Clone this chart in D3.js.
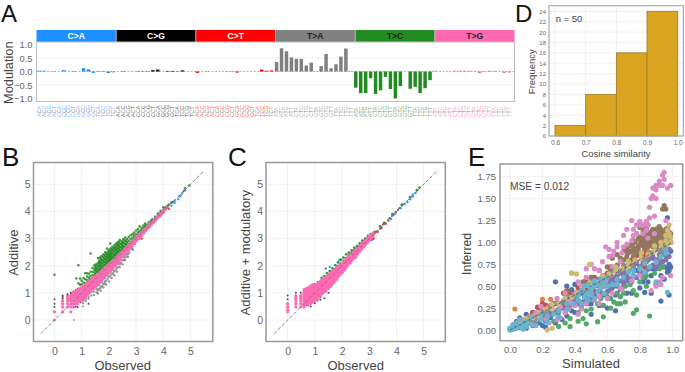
<!DOCTYPE html>
<html><head><meta charset="utf-8">
<script src="https://cdn.jsdelivr.net/npm/d3@7/dist/d3.min.js"></script>
<style>html,body{margin:0;padding:0;background:#fff}svg{display:block;font-family:"Liberation Sans",Arial,sans-serif}</style>
</head><body><svg id="c" width="685" height="372"></svg>
<script>
// ---------- Panel A data ----------
const mutationTypes = ["C>A","C>G","C>T","T>A","T>C","T>G"];
const mutationColors = ["#1e90ff","#000000","#ff0000","#808080","#228b22","#ff69b4"];
const stripTextColors = ["#fff","#fff","#fff","#222","#222","#222"];
const refBases = ["C","C","C","T","T","T"];
const fiveBases = ["A","C","G","T"];
const threeBases = ["A","C","G","T"];
const modCA = [.03,.03,0,-.01,0,.05,0,.02,0,.12,.08,-.05,.02,.02,-.06,-.03];
const modCG = [0,-.01,0,0,.01,-.01,-.01,.05,.07,0,.02,.02,-.01,.04,0,0];
const modCT = [-.05,0,-.01,0,0,0,.01,-.01,-.04,0,0,0,0,.07,.03,.04];
const modTA = [.35,.86,.75,.52,.47,.47,.22,.33,.01,.2,.65,.12,.27,.55,.85,.01];
const modTC = [-.6,-.8,-.8,-.25,-.83,-.7,-.2,-.65,-1.0,-.54,0,-.64,-.57,-.8,-.62,-.32];
const modTG = [.03,0,0,.01,.03,.03,.03,.03,.01,-.06,.02,.03,.02,0,-.05,-.04];
const modTicks = [-1,-.5,0,.5,1];

// ---------- Panel D data ----------
const cosineBins = [[.6,.7],[.7,.8],[.8,.9],[.9,1.0]];
const cosineFreq = [2,8,16,24];
const freqTicks = [0,2,4,6,8,10,12,14,16,18,20,22,24];
const cosineTicks = [.6,.7,.8,.9,1.0];

// ---------- Panel B data (observed, [additive...]) ----------
const bBlue = [[1.85,[1.35]],[2.88,[2.6]],[4.3,[4.2]],[4.42,[4.32,4.4]],[4.55,[4.45]],[4.6,[4.55]],[4.65,[4.6]],[4.7,[4.68]],[4.8,[4.78]]];
const bBlack = [[0,[.48,.6,.76]],[.3,[.7,.78,.85,.9]],[.48,[.78,.9,.95]],[.6,[.85,.95,1]],[.7,[.48,.6,.95,1.05]],[.78,[.5,.6,1,1.1]],[.85,[.48,.6,1.15]],[.95,[.65,.75]],[1.25,[.6]],[4.3,[4.3]],[4.35,[4.36]],[4.1,[4.1]],[4.75,[4.75]]];
const bLowGrey = [[.72,[0]],[1.05,[.5]]];
const bRed = [[3.2,[3.0,3.1]],[3.5,[3.45]],[4.2,[4.1]],[3.9,[3.85]],[4,[3.95]]];
const bGrey = [[1.05,[.72,.62]],[1.15,[.78,.7]],[1.25,[.85,.78,.95]],[1.35,[.9,1.02]],[1.45,[.92,1.05,1.15]],[1.55,[1.02,1.15,1.25]],[1.6,[.98,1.1]],[1.65,[1.15,1.28,1.38]],[1.7,[1.08,1.2]],[1.75,[1.25,1.38,1.48]],[1.8,[1.2,1.32]],[1.85,[1.42,1.55]],[1.9,[1.3,1.45]],[1.95,[1.52,1.65]],[2,[1.42,1.58]],[2.05,[1.62,1.75]],[2.1,[1.55,1.68]],[2.15,[1.72,1.85]],[2.2,[1.65,1.8]],[2.25,[1.85,1.98]],[2.3,[1.78,1.92]],[2.35,[1.95,2.08]],[2.4,[1.95,2.05]],[2.45,[2.1,2.2]],[2.5,[2.05,2.2]],[2.55,[2.22,2.32]],[2.6,[2.2,2.3]],[2.65,[2.35,2.44]],[2.7,[2.32,2.42]],[2.75,[2.48,2.56]],[2.85,[2.62,2.7]],[2.95,[2.8,2.86]],[3.1,[2.98]],[3.3,[3.2]]];
const bGreen = [[0,[1.67]],[.8,[1.53]],[.88,[2.02,1.35]],[.94,[1.53,1.3]],[1,[1.2,1.32,1.45]],[1.07,[1.25,1.38,1.55]],[1.13,[1.72,1.35,1.5]],[1.2,[1.35,1.47,1.6,1.72]],[1.27,[1.45,1.56,1.7]],[1.33,[2.45,1.5,1.62,1.78]],[1.4,[1.55,1.66,1.78,1.92]],[1.47,[1.62,1.74,1.86,2.02]],[1.5,[1.7,1.83,1.95]],[1.53,[1.68,1.8,1.92,2.05]],[1.57,[1.78,1.9,2.02]],[1.6,[1.75,1.86,1.98,2.1,2.28]],[1.64,[1.84,1.97,2.08,2.18]],[1.67,[1.8,1.92,2.04,2.16,2.3]],[1.7,[1.9,2.02,2.14,2.26]],[1.73,[1.86,1.98,2.1,2.22,2.36]],[1.77,[1.96,2.08,2.2,2.33]],[1.8,[1.92,2.04,2.16,2.28,2.42]],[1.84,[2.02,2.14,2.26,2.38]],[1.87,[2,2.12,2.24,2.36,2.5]],[1.9,[2.09,2.21,2.33,2.46]],[1.93,[2.06,2.18,2.3,2.42,2.63]],[1.97,[2.15,2.27,2.39,2.52]],[2,[2.1,2.22,2.34,2.46,2.58]],[2.03,[2.17,2.29,2.41,2.53]],[2.05,[2.82,2.2,2.32,2.44]],[2.07,[2.16,2.28,2.4,2.52,2.64]],[2.1,[2.23,2.35,2.47,2.6]],[2.13,[2.22,2.34,2.46,2.58,2.7]],[2.17,[2.29,2.41,2.53,2.65]],[2.2,[2.28,2.4,2.52,2.64,2.76]],[2.24,[2.36,2.48,2.6,2.72]],[2.27,[2.34,2.46,2.58,2.7,2.82]],[2.3,[2.42,2.54,2.66,2.78]],[2.33,[2.4,2.52,2.64,2.76,2.86]],[2.37,[2.49,2.61,2.73,2.88]],[2.4,[2.46,2.58,2.7,2.82,2.95]],[2.44,[2.56,2.68,2.8]],[2.47,[2.54,2.66,2.78,2.9]],[2.5,[2.62,2.74,2.86]],[2.53,[2.6,2.72,2.84,2.98]],[2.57,[2.7,2.82,2.94]],[2.6,[2.68,2.8,2.92,3.04]],[2.64,[2.77,2.89]],[2.67,[2.74,2.86,2.98]],[2.73,[2.8,2.92,3.06]],[2.8,[2.86,2.98,3.12]],[2.87,[2.94,3.04,3.16]],[2.93,[3,3.1,3.22]],[3,[3.06,3.16,3.3]],[3.07,[3.12,3.22,3.35]],[3.13,[3.2,3.28,3.45]],[3.2,[3.25,3.33,3.4]],[3.27,[3.32,3.4,3.48]],[3.33,[3.38,3.46,3.55]],[3.4,[3.45,3.52]],[3.47,[3.52,3.6]],[3.55,[3.6,3.66]],[3.6,[3.64,3.72]],[3.7,[3.75,3.8]],[3.8,[3.85,3.92]],[3.9,[3.95,4.02]],[4,[4.05,4.15]],[4.05,[4.12]],[4.1,[4.16]],[4.15,[4.2]],[4.2,[4.25]],[4.3,[4.33]],[4.8,[4.85]],[4.95,[4.95]]];
const bPink = [[0,[0,.3]],[.3,[.3,.48,.6,.7]],[.48,[.48,.6,.7,.78,.85]],[.6,[.3,.48,.6,.7,.78,.85,.9]],[.7,[.48,.6,.7,.78,.85,.9,.95,1]],[.78,[.6,.7,.78,.85,.9,.95,1,1.04]],[.85,[.6,.7,.78,.85,.9,.95,1,1.06,1.1]],[.92,[.7,.78,.86,.94,1.02,1.1,1.16]],[1,[.72,.8,.88,.96,1.04,1.12,1.2]],[1.07,[.78,.86,.94,1.02,1.1,1.18,1.25]],[1.14,[.86,.94,1.02,1.1,1.18,1.26,1.32]],[1.21,[.94,1.02,1.1,1.18,1.26,1.34,1.4]],[1.28,[1.02,1.1,1.18,1.26,1.34,1.42]],[1.35,[1.08,1.16,1.24,1.32,1.4,1.48]],[1.42,[1.16,1.24,1.32,1.4,1.48,1.55]],[1.5,[1.22,1.3,1.38,1.46,1.54,1.6]],[1.57,[1.3,1.38,1.46,1.54,1.62,1.67]],[1.64,[1.38,1.46,1.54,1.62,1.7]],[1.71,[1.46,1.54,1.62,1.7,1.78]],[1.78,[1.52,1.6,1.68,1.76,1.84]],[1.85,[1.6,1.68,1.76,1.84,1.92]],[1.92,[1.66,1.74,1.82,1.9,1.98]],[2,[1.74,1.82,1.9,1.98,2.05]],[2.07,[1.82,1.9,1.98,2.06,2.12]],[2.14,[1.9,1.98,2.06,2.14,2.18]],[2.21,[1.98,2.06,2.14,2.22]],[2.28,[2.06,2.14,2.22,2.3]],[2.35,[2.14,2.22,2.3,2.38]],[2.42,[2.22,2.3,2.38,2.44]],[2.5,[2.33,2.4,2.46,2.52]],[2.57,[2.41,2.48,2.54,2.6]],[2.64,[2.5,2.56,2.62,2.67]],[2.71,[2.58,2.64,2.7,2.74]],[2.78,[2.66,2.72,2.78]],[2.85,[2.73,2.79,2.85,2.88]],[2.92,[2.82,2.88,2.94]],[3,[2.9,2.96,3.02,3.06]],[3.07,[2.98,3.04,3.1]],[3.14,[3.06,3.12,3.17]],[3.21,[3.14,3.2,3.24]],[3.28,[3.22,3.27,3.31]],[3.35,[3.29,3.34,3.38]],[3.42,[3.36,3.42,3.46]],[3.5,[3.44,3.5,3.54]],[3.57,[3.52,3.58]],[3.64,[3.6,3.65]],[3.71,[3.67,3.72]],[3.78,[3.75,3.79]],[3.85,[3.82,3.86]],[3.92,[3.89,3.93]],[4,[3.98,4.02]],[4.07,[4.07]],[4.15,[4.15]]];

// ---------- Panel C data (observed, [additive + modulatory...]) ----------
const cBlue = [[1.55,[1.4,1.95]],[1.7,[1.45]],[2.1,[1.85]],[2.5,[2.3]],[3.1,[2.95]],[3.4,[3.36]],[3.7,[3.66]],[3.8,[3.72]],[3.95,[3.92]],[4.15,[4.12]],[4.3,[4.27]],[4.4,[4.35]],[4.5,[4.45]],[4.6,[4.55,4.62]],[4.7,[4.68]],[1.9,[2.2]]];
const cBlack = [[0,[.5,.6,.76,.9]],[.3,[.78,.9,1]],[.48,[.7,.85,1,.6]],[.6,[.95,1.05,.6,.5]],[.7,[1,1.1,.55,.65]],[.85,[.6,.7,.5]],[1,[.7,.62,1.32]],[1.1,[.72,1.4]],[1.2,[.85,.75]],[1.4,[1.9]],[1.5,[1]],[1.35,[.8]],[3.5,[3.52]],[3.75,[3.76]],[3.98,[3.98]],[4.05,[4.05]],[4.1,[4.12]]];
const cRed = [[1.9,[1.7]],[2.9,[2.85]],[3.15,[3]],[3.3,[3.24]],[3.45,[3.4]],[3.6,[3.55]]];
const cGrey = [[1.2,[.85]],[1.4,[1.05]],[1.6,[1.25]],[1.8,[1.48]],[2,[1.72]],[2.3,[2.1]],[3.2,[3.2]],[3.3,[3.28]],[3.55,[3.54]],[3.7,[3.68]],[3.85,[3.84]],[3.9,[3.88]],[4.2,[4.22]]];
const cGreen = [[1.25,[1.42,1.55]],[1.35,[1.5,1.62]],[1.45,[1.58,1.72]],[1.55,[1.68,1.8]],[1.65,[1.78,1.9]],[1.75,[1.88,2.02]],[1.85,[1.98,2.12]],[1.95,[2.08,2.22]],[2.05,[2.18,2.3]],[2.15,[2.28,2.42]],[2.25,[2.38,2.48]],[2.35,[2.46,2.56]],[2.45,[2.56,2.66]],[2.55,[2.64,2.72]],[2.65,[2.74,2.82]],[2.75,[2.84,2.92]],[2.85,[2.92,3]],[2.95,[3.02,3.1]],[3.05,[3.1,3.16]],[3.2,[3.25]],[3.4,[3.45]],[3.55,[3.58]],[3.85,[3.9]],[4.2,[4.25]],[4.5,[4.52]],[4.75,[4.78]],[4.85,[4.88]]];
const cPink = [[0,[.3,.38,.48,.6]],[.3,[.48,.6,.7,.78,.85]],[.48,[.48,.6,.7,.78,.85,.9]],[.6,[.48,.55,.62,.7,.78,.85,.92,.98,1.05,1.12]],[.68,[.6,.68,.76,.84,.92,1,1.08,1.16]],[.76,[.55,.63,.71,.79,.87,.95,1.03,1.11,1.19]],[.84,[.62,.7,.78,.86,.94,1.02,1.1,1.18,1.26]],[.92,[.66,.74,.82,.9,.98,1.06,1.14,1.22,1.3]],[1,[.7,.78,.86,.94,1.02,1.1,1.18,1.26]],[1.07,[.76,.84,.92,1,1.08,1.16,1.24,1.32]],[1.14,[.84,.92,1,1.08,1.16,1.24,1.32,1.38]],[1.21,[.92,1,1.08,1.16,1.24,1.32,1.4,1.44]],[1.28,[.98,1.06,1.14,1.22,1.3,1.38,1.46,1.5]],[1.35,[1.05,1.13,1.21,1.29,1.37,1.45,1.53]],[1.42,[1.12,1.2,1.28,1.36,1.44,1.52,1.6]],[1.5,[1.16,1.24,1.32,1.4,1.48,1.56,1.66]],[1.57,[1.24,1.32,1.4,1.48,1.56,1.64,1.72]],[1.64,[1.32,1.4,1.48,1.56,1.64,1.72,1.78]],[1.71,[1.4,1.48,1.56,1.64,1.72,1.8,1.85]],[1.78,[1.5,1.58,1.66,1.74,1.82,1.9]],[1.85,[1.58,1.66,1.74,1.82,1.9,1.96]],[1.92,[1.66,1.74,1.82,1.9,1.98,2.03]],[2,[1.76,1.84,1.92,2,2.08]],[2.07,[1.84,1.92,2,2.08,2.16]],[2.14,[1.94,2.02,2.1,2.18,2.23]],[2.21,[2.02,2.1,2.18,2.26,2.3]],[2.28,[2.1,2.18,2.26,2.34,2.38]],[2.35,[2.18,2.26,2.34,2.42]],[2.42,[2.26,2.34,2.42,2.5]],[2.5,[2.35,2.42,2.5,2.57]],[2.57,[2.44,2.51,2.58,2.64]],[2.64,[2.52,2.59,2.66,2.71]],[2.71,[2.6,2.67,2.74,2.78]],[2.78,[2.68,2.74,2.8,2.85]],[2.85,[2.76,2.82,2.88,2.92]],[2.92,[2.84,2.9,2.96,3]],[3,[2.92,2.98,3.04,3.1]],[3.07,[3.02,3.08,3.14]],[3.14,[3.1,3.16,3.2]]];

// ---------- Panel E data (simulated, [inferred...]) ----------
const eBlue = [[.02,[.02,.06]],[.04,[.1]],[.06,[.03,.14]],[.1,[.02,.18]],[.12,[.12]],[.14,[.05,.2]],[.16,[.14]],[.18,[.08,.25]],[.2,[.18,.05]],[.22,[.1,.28,.03]],[.25,[.22,.14]],[.28,[.55,.2,.08]],[.3,[.22]],[.32,[.3,.12]],[.34,[.26,.42]],[.35,[.5,.35,.16]],[.38,[.46,.22]],[.4,[.52,.2]],[.42,[.34,.3]],[.44,[.42,.25]],[.46,[.38,.55]],[.48,[.3,.46]],[.5,[.3,.18]],[.52,[.38,.52]],[.55,[.58,.28]],[.58,[.4,.5]],[.6,[.25,.62]],[.63,[.48,.58]],[.65,[.22,.4]],[.68,[.46,.65]],[.7,[.5,.72]],[.72,[.42,.6]],[.75,[.55,.42]],[.78,[.6,.68]],[.8,[.72,.48]],[.82,[.55,.8]],[.83,[.43,.6]],[.85,[.55,.8]],[.87,[.42,.62]],[.88,[.7,.82]],[.9,[.7,.52]],[.92,[.78,.95]],[.93,[.33,.88,.62]],[.95,[.58,.72,.95]],[.96,[.85,1.0]],[.97,[.7,1.28,.66]],[.98,[.4,.75,1.05,.68]],[.99,[1.0,.72,.9]]];
const eOrange = [[.03,[.24]],[.05,[.03,.1]],[.12,[.16]],[.2,[.35,.22]],[.25,[.35,.28]],[.3,[.24]],[.38,[.36]],[.45,[.47]],[.5,[.35]],[.58,[.62]],[.62,[.46]],[.7,[.7]],[.76,[.62]],[.85,[.9]],[.92,[.82]],[.96,[1.1]]];
const eGreen = [[.05,[.05]],[.1,[.12]],[.12,[.08]],[.16,[.1]],[.2,[.13]],[.24,[.16]],[.27,[.1]],[.3,[.04]],[.34,[.08,.2]],[.37,[.13,.04]],[.4,[.3]],[.42,[.2,.1]],[.45,[.13,.3]],[.47,[.07,.22]],[.5,[.24,.36]],[.54,[.095,.3]],[.56,[.36]],[.575,[.15,.28]],[.6,[.38]],[.62,[.25,.36]],[.64,[.32]],[.66,[.42,.3]],[.68,[.3,.38]],[.7,[.42]],[.71,[.32,.5]],[.74,[.52]],[.76,[.19,.45]],[.78,[.23,.4]],[.8,[.55]],[.82,[.6]],[.84,[.5,.62]],[.86,[.16]],[.89,[.65]],[.92,[.7]],[.94,[.72]],[.96,[.85]],[.98,[.92,1.1]]];
const eRed = [[.04,[.06]],[.09,[.12]],[.14,[.2]],[.17,[.14,.26]],[.2,[.3]],[.22,[.28]],[.24,[.24]],[.27,[.3]],[.29,[.31]],[.33,[.42,.26]],[.36,[.44]],[.38,[.4]],[.4,[.36]],[.42,[.33,.48]],[.44,[.5]],[.47,[.56]],[.5,[.55]],[.52,[.44,.6]],[.55,[.5]],[.57,[.62]],[.6,[.65,.52]],[.62,[.72,.58]],[.65,[.72]],[.68,[.78]],[.7,[.72,.62]],[.72,[.9]],[.74,[.9]],[.75,[.8,.7]],[.78,[.85]],[.79,[.95]],[.81,[1.0]],[.83,[.86,.72]],[.84,[.95,1.05]],[.86,[.98,1.03]],[.88,[1.1]],[.9,[1.15,1.06]],[.92,[1.08]],[.93,[1.13,1.02]],[.95,[1.07]],[.96,[1.05,1.15]],[.97,[1.0,1.12]]];
const ePurple = [[.02,[.01,.04]],[.05,[.03]],[.07,[.05]],[.1,[.07]],[.12,[.08]],[.15,[.1,.16]],[.17,[.13,.18]],[.2,[.14,.2]],[.22,[.16]],[.25,[.18,.24]],[.27,[.22]],[.3,[.24,.2]],[.32,[.25,.3]],[.35,[.3,.24]],[.37,[.28,.36]],[.4,[.34,.42]],[.42,[.3,.4]],[.45,[.32,.44]],[.47,[.36,.46]],[.5,[.38,.48]],[.52,[.4,.5]],[.55,[.44,.54]],[.57,[.42,.52]],[.6,[.44,.6]],[.62,[.46,.56]],[.65,[.54,.6]],[.66,[.5,.62]],[.68,[.56,.68]],[.7,[.54,.66]],[.72,[.56,.62]],[.74,[.58,.7]],[.76,[.62,.72]],[.78,[.6,.76]],[.8,[.64,.72]],[.82,[.66,.76]],[.84,[.68,.78]],[.86,[.7,.82]],[.88,[.74,.84]],[.9,[.72,.8]],[.92,[.76,.86]],[.94,[.78,.88]],[.96,[.8,.9]],[.98,[.84,.92]]];
const eBrown = [[.35,[.45]],[.45,[.55]],[.5,[.6]],[.55,[.68]],[.6,[.72]],[.62,[.68]],[.63,[.82]],[.66,[.74,.86]],[.68,[.82]],[.7,[.8,.9]],[.72,[.84,.92]],[.73,[.78,.88,.96]],[.75,[.9,.98]],[.76,[.84,.94,1.02]],[.77,[.88,1.0]],[.78,[.9,1.1]],[.79,[.92,1.04]],[.8,[.88,.98,1.06,1.17]],[.82,[.96,1.04,1.12]],[.83,[.92,1,1.08,1.15]],[.84,[.98,1.06,1.16]],[.85,[.95,1.03,1.1,1.2]],[.87,[1,1.06,1.12]],[.88,[.95,1.02,1.08,1.15]],[.89,[1.04,1.1]],[.9,[1,1.07,1.14]],[.91,[1.02,1.1,1.16]],[.92,[.98,1.05,1.1,1.18]],[.93,[1,1.08,1.15]],[.94,[1.02,1.12,1.38]],[.95,[1.0,1.42,1.06]],[.96,[1.38,1.1]],[.97,[1.06,1.16]],[.98,[1.04,1.12]],[.99,[1.0,1.1]]];
const ePink = [[.03,[.04]],[.05,[.07]],[.08,[.02,.12]],[.1,[.1]],[.14,[.06,.16]],[.16,[.12,.2]],[.19,[.14,.27]],[.22,[.12,.2]],[.24,[.08,.26]],[.26,[.24]],[.29,[.12,.36]],[.31,[.14,.26]],[.34,[.2,.42]],[.36,[.24,.34]],[.38,[.65,.3]],[.4,[.28,.4]],[.42,[.18,.55]],[.44,[.24,.5]],[.47,[.7,.6,.3]],[.5,[.75,.42]],[.52,[.34,.7]],[.55,[.38,.68,.3]],[.57,[.5,.78]],[.59,[.95,.56]],[.6,[.36]],[.61,[.92,.84]],[.63,[.85,.72,.42]],[.64,[.9]],[.66,[1.0,.95]],[.68,[.48,.78]],[.69,[.88,.46]],[.7,[.95,1.08]],[.72,[1.15,.98]],[.75,[1.25,1.02,.56]],[.76,[1.15,1.08]],[.78,[1.1,1.2]],[.8,[1.2,1.24,.62]],[.82,[1.2,1.1]],[.84,[1.14,1.24]],[.85,[1.2,1.05]],[.86,[1.4,1.28]],[.87,[1.5,.45]],[.88,[1.53,1.62]],[.89,[1.3,1.1]],[.9,[1.65,1.5,.5,1.6]],[.92,[1.7,1.65,.55]],[.93,[.52]],[.94,[1.65,1.77,.6]],[.95,[1.8,1.72]],[.96,[1.25]],[.97,[1.62]],[.99,[1.65,.62]]];
const eGrey = [[.03,[.02]],[.08,[.07]],[.12,[.13]],[.15,[.12]],[.19,[.17]],[.22,[.2]],[.25,[.26]],[.28,[.3]],[.33,[.33]],[.36,[.38]],[.39,[.38]],[.41,[.43]],[.44,[.45]],[.47,[.5]],[.5,[.48,.55]],[.53,[.56]],[.56,[.55]],[.59,[.6]],[.62,[.62]],[.64,[.68]],[.67,[.66]],[.7,[.74]],[.72,[.72]],[.75,[.74]],[.78,[.78]],[.81,[.82]],[.84,[.8]],[.87,[.88]],[.9,[.92]],[.93,[.9]],[.96,[.95]]];
const eKhaki = [[0,[0,.02]],[.03,[.03,.06]],[.06,[.05,.08]],[.1,[.08,.13]],[.14,[.14]],[.18,[.16,.2]],[.22,[.24]],[.23,[0]],[.26,[.24,.29,.02]],[.3,[.3]],[.34,[.36]],[.38,[.37,.65]],[.41,[.64,.43]],[.45,[.47]],[.49,[.5,.54,.75]],[.53,[.55]],[.57,[.56,.62]],[.61,[.64]],[.65,[.67,.72]],[.69,[.7]],[.73,[.72,.78]],[.77,[.8]],[.81,[.82,.88]],[.85,[.86]],[.89,[.9,.96]],[.93,[.95,1.0]],[.96,[1.02,1.08]],[.97,[.98,1.14]],[.98,[1.1,1.2]],[.99,[1.0,1.06]]];
const eCyan = [[0,[0,.02]],[.02,[.01,.05]],[.04,[.02,.08]],[.06,[.04,.12]],[.08,[.01,.06]],[.1,[.04,.1]],[.13,[.07,.15]],[.16,[.05]],[.19,[.12,.18]],[.23,[.09,.16]],[.27,[.18]],[.3,[.15,.22]],[.35,[.24,.3]],[.39,[.3]],[.42,[.34,.4]],[.44,[.3,.45]],[.46,[.38,.5]],[.48,[.34,.42,.52]],[.5,[.4,.46]],[.52,[.36,.5,.56]],[.54,[.44,.52]],[.56,[.48,.58]],[.58,[.42,.54]],[.6,[.5,.6]],[.63,[.52]],[.66,[.58,.52]],[.7,[.6]],[.73,[.66]],[.76,[.62,.68]],[.8,[.7]],[.83,[.66,.76]],[.86,[.72]],[.9,[.78,.55]],[.93,[.84]],[.96,[.88,.92]],[.97,[.43]]];
const xyTicks = [0,1,2,3,4,5];
const simTicks = [0,.2,.4,.6,.8,1.0];
const infTicks = [0,.25,.5,.75,1,1.25,1.5,1.75];
const pointColors = {blue:"#1e90ff",black:"#222222",red:"#ff0000",grey:"#808080",green:"#228b22",pink:"#ff69b4"};
const deepPalette = ["#4C72B0","#DD8452","#55A868","#C44E52","#8172B3","#937860","#DA8BC3","#8C8C8C","#CCB974","#64B5CD"];

// ---------- drawing ----------
const svg = d3.select("#c");
const GRID="#f1f1f1", TICK="#666666", LAB="#444444";
const flat = rows => rows.flatMap(([x,ys]) => ys.map(y => [x,y]));
function label(x,y,t,size,rot,anchor,col,weight){
  svg.append("text").attr("transform",`translate(${x},${y})`+(rot?` rotate(${rot})`:""))
    .attr("text-anchor",anchor||"middle").attr("font-size",size).attr("fill",col||LAB).attr("font-weight",weight||"normal").text(t);
}
function styleAxis(g,size){
  g.select(".domain").remove();
  g.selectAll("line").remove();
  g.selectAll("text").attr("fill",TICK).attr("font-size",size).attr("font-family",'"Liberation Sans",Arial,sans-serif');
}
function frame(l,t,r,b,w,col){
  svg.append("rect").attr("x",l).attr("y",t).attr("width",r-l).attr("height",b-t)
    .attr("fill","none").attr("stroke",col||"#999").attr("stroke-width",w||1.5);
}
function grid(x,y,xt,yt,l,t,r,b){
  const g=svg.append("g").attr("stroke",GRID).attr("stroke-width",1);
  if(xt) g.selectAll(".vg").data(xt).join("line").attr("x1",d=>x(d)).attr("x2",d=>x(d)).attr("y1",t).attr("y2",b);
  if(yt) g.selectAll(".hg").data(yt).join("line").attr("y1",d=>y(d)).attr("y2",d=>y(d)).attr("x1",l).attr("x2",r);
}

// Panel letters
[["A",1,22,24],["B",2,166,26],["C",228,166,26],["D",515,22,24],["E",468,166,26]].forEach(d=>label(d[1],d[2],d[0],d[3],null,"start","#111"));

// Panel A
(function(){
  const L=36.5,R=514.5,T=42,B=101.5;
  const mods=[modCA,modCG,modCT,modTA,modTC,modTG];
  const values=mods.flat();
  const strip=d3.scaleLinear().domain([0,6]).range([L,R]);
  const x=d3.scaleBand().domain(d3.range(values.length)).range([36.5,511.7]).paddingInner(.3).paddingOuter(.15);
  const y=d3.scaleLinear().domain([-1,1]).range([98.5,44.5]);
  grid(null,y,null,[-.5,.5],L,T,R,B);
  svg.append("g").selectAll("rect").data(mutationTypes).join("rect")
    .attr("x",(d,i)=>strip(i)).attr("y",30).attr("width",(d,i)=>strip(i+1)-strip(i)).attr("height",12)
    .attr("fill",(d,i)=>mutationColors[i]);
  svg.append("g").selectAll("line").data(d3.range(1,6)).join("line")
    .attr("x1",d=>strip(d)).attr("x2",d=>strip(d)).attr("y1",30).attr("y2",42).attr("stroke","#ccc").attr("stroke-width",.8);
  mutationTypes.forEach((m,i)=>label((strip(i)+strip(i+1))/2,39,m,8.6,null,"middle",stripTextColors[i],"bold"));
  frame(L,T,R,B,1,"#bdbdbd");
  svg.append("line").attr("x1",L).attr("x2",R).attr("y1",y(0)).attr("y2",y(0)).attr("stroke","#999").attr("stroke-width",.7).attr("stroke-dasharray","2 1.5");
  svg.append("g").selectAll("rect").data(values).join("rect")
    .attr("x",(d,i)=>x(i)).attr("width",x.bandwidth())
    .attr("y",d=>y(Math.max(0,d))).attr("height",d=>Math.abs(y(d)-y(0)))
    .attr("fill",(d,i)=>mutationColors[Math.floor(i/16)]);
  const ax=svg.append("g").attr("transform",`translate(${L},0)`).call(d3.axisLeft(y).tickValues(modTicks).tickFormat(d3.format(".1f")).tickSize(0).tickPadding(4));
  styleAxis(ax,9.4);
  label(13,72.7,"Modulation",12.8,-90);
  const ctx=d3.cross(fiveBases,threeBases);
  values.forEach((v,i)=>{
    const g=Math.floor(i/16),c=ctx[i%16];
    const t=svg.append("text").attr("transform",`translate(${x(i)+x.bandwidth()/2+1.8},117) rotate(-90)`).attr("font-size",5.4);
    t.append("tspan").attr("fill",mutationColors[g]).attr("fill-opacity",.7).text(c[0]);
    t.append("tspan").attr("fill","#888").text(refBases[g]);
    t.append("tspan").attr("fill",mutationColors[g]).attr("fill-opacity",.7).text(c[1]);
  });
})();

// Panel D
(function(){
  const L=549,R=683.3,T=5.7,B=136;
  const x=d3.scaleLinear().domain([.6,1]).range([555,677.7]);
  const y=d3.scaleLinear().domain([0,24]).range([136,11.3]);
  grid(x,y,cosineTicks,freqTicks,L,T,R,B);
  svg.append("g").selectAll("rect").data(cosineFreq).join("rect")
    .attr("x",(d,i)=>x(cosineBins[i][0])).attr("width",(d,i)=>x(cosineBins[i][1])-x(cosineBins[i][0]))
    .attr("y",d=>y(d)).attr("height",d=>y(0)-y(d))
    .attr("fill","#daa520").attr("stroke","#9c7a22").attr("stroke-width",.8);
  frame(L,T,R,B,1.2,"#aaa");
  styleAxis(svg.append("g").attr("transform",`translate(${L},0)`).call(d3.axisLeft(y).tickValues(freqTicks).tickSize(0).tickPadding(3)),6);
  styleAxis(svg.append("g").attr("transform",`translate(0,${B})`).call(d3.axisBottom(x).tickValues(cosineTicks).tickFormat(d3.format(".1f")).tickSize(0).tickPadding(4)),6.5);
  label(616,157,"Cosine similarity",9.5);
  label(535,71.7,"Frequency",9.5,-90);
  label(555.7,22.3,"n = 50",9.5,null,"start");
})();

// Panels B & C
function scatter(L,x0,yTitle,titleX,obsX,series){
  const R=L+179.3,T=162.5,B=341.5;
  const x=d3.scaleLinear().domain([0,5]).range([x0,x0+136]);
  const y=d3.scaleLinear().domain([0,5]).range([320,184.3]);
  grid(x,y,xyTicks,xyTicks,L,T,R,B);
  series.forEach(s=>{
    svg.append("g").selectAll("circle").data(flat(s.rows)).join("circle")
      .attr("cx",d=>x(d[0])).attr("cy",d=>y(d[1])).attr("r",s.r).attr("fill",s.color).attr("fill-opacity",s.op);
  });
  svg.append("line").attr("x1",x(-.5)).attr("y1",y(-.5)).attr("x2",x(5.5)).attr("y2",y(5.5))
    .attr("stroke","#777").attr("stroke-width",.9).attr("stroke-dasharray","3.5 2");
  frame(L,T,R,B,1.5,"#999");
  styleAxis(svg.append("g").attr("transform",`translate(${L},0)`).call(d3.axisLeft(y).tickValues(xyTicks).tickFormat(d3.format("d")).tickSize(0).tickPadding(3)),10.5);
  styleAxis(svg.append("g").attr("transform",`translate(0,${B})`).call(d3.axisBottom(x).tickValues(xyTicks).tickFormat(d3.format("d")).tickSize(0).tickPadding(6)),10.5);
  label(obsX,370,"Observed",13);
  label(titleX,252.7,yTitle,13,-90);
}
scatter(33.5,54.5,"Additive",17.5,122.7,[
  {rows:bBlue,color:pointColors.blue,r:1.2,op:.85},{rows:bBlack,color:pointColors.black,r:1,op:.8},{rows:bLowGrey,color:pointColors.grey,r:1,op:.8},
  {rows:bRed,color:pointColors.red,r:1.2,op:.85},{rows:bGrey,color:pointColors.grey,r:1.2,op:.8},
  {rows:bGreen,color:pointColors.green,r:1.3,op:.85},{rows:bPink,color:pointColors.pink,r:1.6,op:1}]);
scatter(266,287.7,"Additive + modulatory",250,355.7,[
  {rows:cBlue,color:pointColors.blue,r:1.3,op:.85},{rows:cBlack,color:pointColors.black,r:1,op:.8},
  {rows:cRed,color:pointColors.red,r:1.3,op:.85},{rows:cGrey,color:pointColors.grey,r:1.3,op:.8},
  {rows:cGreen,color:pointColors.green,r:1.4,op:.9},{rows:cPink,color:pointColors.pink,r:1.6,op:1}]);

// Panel E
(function(){
  const L=500,R=682.7,T=164,B=340.7;
  const x=d3.scaleLinear().domain([0,1]).range([510,672.3]);
  const y=d3.scaleLinear().domain([0,1.75]).range([330,176.7]);
  grid(x,y,simTicks,infTicks,L,T,R,B);
  [eBlue,eOrange,eGreen,eRed,ePurple,eBrown,ePink,eGrey,eKhaki,eCyan].forEach((rows,i)=>{
    svg.append("g").selectAll("circle").data(flat(rows)).join("circle")
      .attr("cx",d=>x(d[0])).attr("cy",d=>y(d[1])).attr("r",2.6).attr("fill",deepPalette[i]);
  });
  svg.append("line").attr("x1",x(0)).attr("y1",y(0)).attr("x2",x(1)).attr("y2",y(1))
    .attr("stroke","#555").attr("stroke-width",.9).attr("stroke-dasharray","3 2");
  frame(L,T,R,B,1.5,"#999");
  styleAxis(svg.append("g").attr("transform",`translate(${L},0)`).call(d3.axisLeft(y).tickValues(infTicks).tickFormat(d3.format(".2f")).tickSize(0).tickPadding(4)),9.5);
  styleAxis(svg.append("g").attr("transform",`translate(0,${B})`).call(d3.axisBottom(x).tickValues(simTicks).tickFormat(d3.format(".1f")).tickSize(0).tickPadding(6)),9.5);
  label(591,368,"Simulated",13);
  label(471,254,"Inferred",12.2,-90);
  label(510,190,"MSE = 0.012",10.2,null,"start");
})();
</script></body></html>
